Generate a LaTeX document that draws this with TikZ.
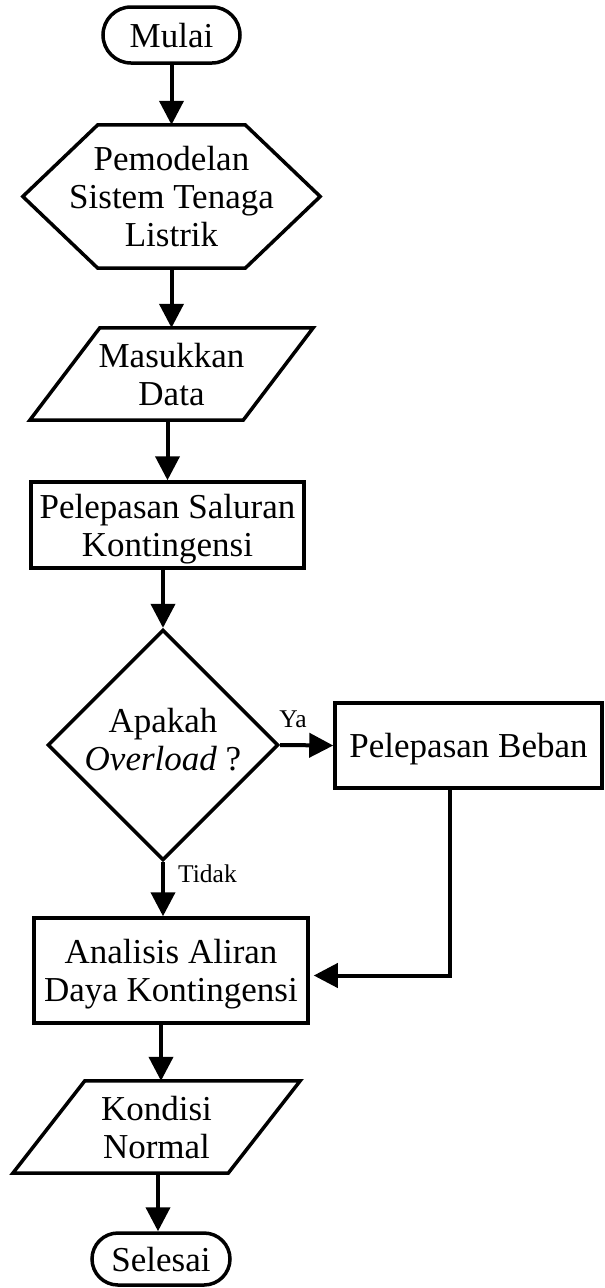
\documentclass[tikz,border=0pt]{standalone}
\usepackage{fontspec}
\setmainfont{Liberation Serif}
\usepackage{tikz}
\usetikzlibrary{arrows.meta}
\usetikzlibrary{calc}
\usetikzlibrary{shapes.geometric,shapes.misc}
\usetikzlibrary{positioning}

\tikzset{
  teks/.style={font=\fontsize{35}{38}\selectfont, align=center, inner sep=0pt, text depth=0pt},
  kecil/.style={font=\fontsize{25.5}{28}\selectfont, inner sep=0pt},
  garis/.style={line width=3.5pt, line join=miter},
  mulaiselesai/.style={teks, garis, draw, rounded rectangle},
  proses/.style={teks, garis, draw, rectangle},
  keputusan/.style={teks, garis, draw, diamond},
  panah/.style={line width=4pt, -{Triangle[length=24pt,width=24pt]}}
}

\begin{document}
\begin{tikzpicture}[x=1pt, y=-1pt]
            \useasboundingbox (0,0) rectangle (605,1288);
            \draw (171.5,35) node[mulaiselesai, minimum width=137pt, minimum height=56pt]      (mulai) {Mulai};
            \draw (171.5,196.5) node[teks, minimum width=297pt, minimum height=143pt]         (model) {Pemodelan\\Sistem Tenaga\\Listrik};
            \draw (171.5,374) node[teks, minimum width=283pt, minimum height=92pt]            (data) {Masukkan\\Data};
            \draw (167.5,525) node[proses, minimum width=273pt, minimum height=86pt]          (kont) {Pelepasan Saluran\\Kontingensi};
            \draw (163,745) node[keputusan, text depth=12pt, minimum width=227pt, minimum height=226pt] (cek) {Apakah\\\textit{Overload} ?};
            \draw (468.5,745.5) node[proses, minimum width=267pt, minimum height=85pt]       (beban) {Pelepasan Beban};
            \draw (171,970.5) node[proses, minimum width=274pt, minimum height=105pt]         (ana) {Analisis Aliran\\Daya Kontingensi};
            \draw (156.5,1127) node[teks, minimum width=287pt, minimum height=92pt]           (normal) {Kondisi\\Normal};
            \draw (161,1259) node[mulaiselesai, minimum width=138pt, minimum height=52pt]     (selesai) {Selesai};

            % bentuk segienam dan jajar genjang
            \draw[garis] (model.west) -- ([xshift=75pt]model.north west) -- ([xshift=-75pt]model.north east)
                -- (model.east) -- ([xshift=-75pt]model.south east) -- ([xshift=75pt]model.south west) -- cycle;
            \draw[garis] ([xshift=70pt]data.north west) -- (data.north east) -- ([xshift=-70pt]data.south east) -- (data.south west) -- cycle;
            \draw[garis] ([xshift=72pt]normal.north west) -- (normal.north east) -- ([xshift=-72pt]normal.south east) -- (normal.south west) -- cycle;

            \draw[panah] (mulai.south) -- (mulai.south |- model.north);
            \draw[panah] (model.south) -- (model.south |- data.north);
            \draw[panah] ([xshift=-4pt]data.south) -- ([xshift=-4pt]data.south |- kont.north);
            \draw[panah] (cek.north |- kont.south) -- (cek.north);
            \draw[panah] (cek.east) -- (beban.west);
            \draw[panah] (cek.south) -- (cek.south |- ana.north);
            \draw[panah] ([xshift=-18.5pt]beban.south) |- ([xshift=4pt,yshift=-5pt]ana.east);
            \draw[panah] ([xshift=-10pt]ana.south) -- ([xshift=-10pt]ana.south |- normal.north);
            \draw[panah] ([xshift=1.5pt]normal.south) -- ([xshift=1.5pt]normal.south |- selesai.north);

            \node[kecil, anchor=base] (ya) at (293,727) {Ya};
            \node[kecil, anchor=base west] (tidak) at (178,882) {Tidak};
\end{tikzpicture}
\end{document}
